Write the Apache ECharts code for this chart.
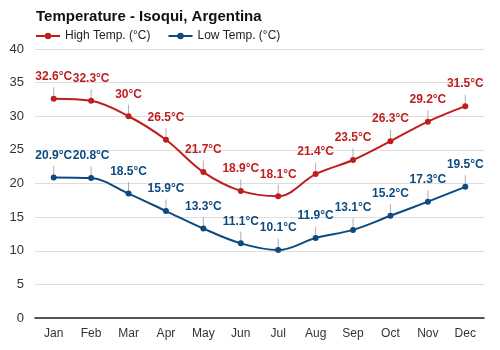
<!DOCTYPE html>
<html>
<head>
<meta charset="utf-8">
<script src="https://cdn.jsdelivr.net/npm/echarts@6/dist/echarts.min.js"></script>
<style>
  html, body { margin: 0; padding: 0; background: #fff; }
  #chart { width: 500px; height: 350px; }
</style>
</head>
<body>
<div id="chart"></div>
<script>
// monthly averages
const months = ["Jan", "Feb", "Mar", "Apr", "May", "Jun", "Jul", "Aug", "Sep", "Oct", "Nov", "Dec"];
const highTemp = [32.6, 32.3, 30, 26.5, 21.7, 18.9, 18.1, 21.4, 23.5, 26.3, 29.2, 31.5];
const lowTemp = [20.9, 20.8, 18.5, 15.9, 13.3, 11.1, 10.1, 11.9, 13.1, 15.2, 17.3, 19.5];

const red = "#bf1e1e";
const blue = "#0d4a80";
const font = "Arial, Liberation Sans, sans-serif";

function tempLine(name, data, color) {
  return {
    name: name,
    type: "line",
    data: data,
    smooth: 0.35,
    symbol: "circle",
    symbolSize: 6,
    z: 3,
    itemStyle: { color: color },
    lineStyle: { color: color, width: 2 },
    label: {
      show: true,
      position: "top",
      distance: 13,
      formatter: "{c}°C",
      color: color,
      fontWeight: "bold",
      fontSize: 12,
      fontFamily: font
    }
  };
}

// small grey ticks joining each point to its label
function leader(data) {
  return {
    type: "scatter",
    data: data,
    symbol: "rect",
    symbolSize: [1, 11],
    symbolOffset: [0, -6],
    itemStyle: { color: "#999" },
    z: 2,
    silent: true
  };
}

const chart = echarts.init(document.getElementById("chart"));
chart.setOption({
  animation: false,
  title: {
    text: "Temperature - Isoqui, Argentina",
    left: 31,
    top: 4,
    textStyle: { fontSize: 15, fontWeight: "bold", color: "#111", fontFamily: font }
  },
  legend: {
    data: ["High Temp. (°C)", "Low Temp. (°C)"],
    left: 30,
    top: 25,
    itemWidth: 24,
    itemHeight: 8,
    itemGap: 17,
    textStyle: { fontSize: 12, color: "#222", fontFamily: font }
  },
  grid: { left: 35, right: 16, top: 49, bottom: 32 },
  xAxis: {
    type: "category",
    data: months,
    boundaryGap: true,
    axisLine: { lineStyle: { color: "#222", width: 1.5 } },
    axisTick: { show: false },
    axisLabel: { color: "#333", fontSize: 12, margin: 10, fontFamily: font }
  },
  yAxis: {
    type: "value",
    min: 0,
    max: 40,
    interval: 5,
    axisLine: { show: false },
    axisTick: { show: false },
    axisLabel: { color: "#333", fontSize: 13, margin: 11, fontFamily: font },
    splitLine: { lineStyle: { color: "#ddd" } }
  },
  series: [
    leader(highTemp),
    leader(lowTemp),
    tempLine("High Temp. (°C)", highTemp, red),
    tempLine("Low Temp. (°C)", lowTemp, blue)
  ]
});
</script>
</body>
</html>
